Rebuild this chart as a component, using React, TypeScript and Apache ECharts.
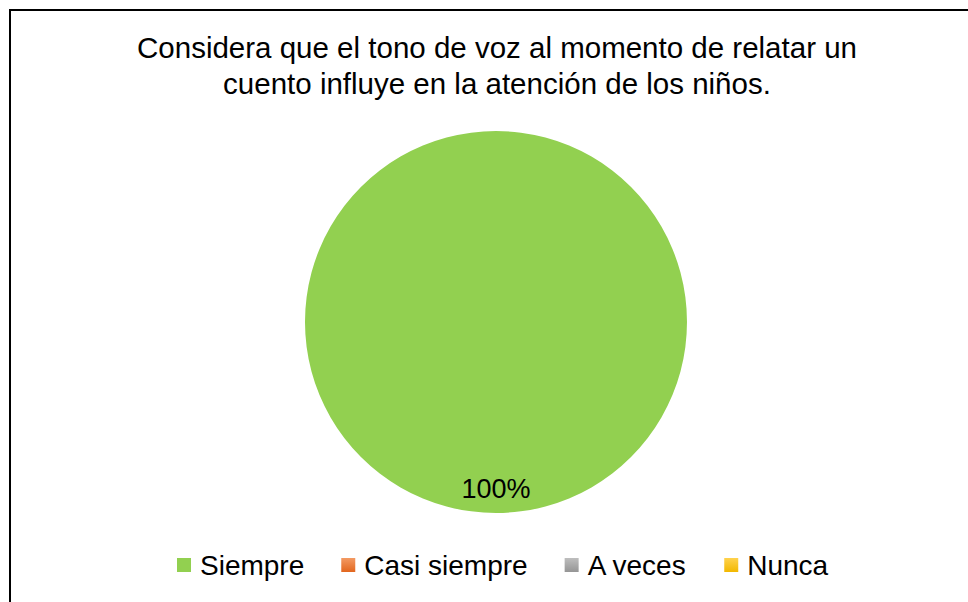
import React, { useEffect, useRef } from "react";
import * as echarts from "echarts";

const titleLines = [
  "Considera que el tono de voz al momento de relatar un",
  "cuento influye en la atención de los niños.",
];
const categories = ["Siempre", "Casi siempre", "A veces", "Nunca"];
const values = [100, 0, 0, 0];
const colorTops = ["#92D050", "#F39A63", "#BEBEBE", "#FFD24D"];
const colorBottoms = ["#92D050", "#E2661E", "#959595", "#F2B800"];

export default function App() {
  const ref = useRef<HTMLDivElement>(null);
  useEffect(() => {
    document.body.style.margin = "0";
    const chart = echarts.init(ref.current!, null, { renderer: "svg" });
    const font = "'Liberation Sans', Arial, sans-serif";
    const data = categories.map((name, i) => ({
      name,
      value: values[i],
      itemStyle: {
        color:
          colorTops[i] === colorBottoms[i]
            ? colorTops[i]
            : new echarts.graphic.LinearGradient(0, 0, 0, 1, [
                { offset: 0, color: colorTops[i] },
                { offset: 1, color: colorBottoms[i] },
              ]),
      },
      label: { show: values[i] > 0 },
    }));
    chart.setOption({
      animation: false,
      backgroundColor: "#ffffff",
      title: {
        text: titleLines.join("\n"),
        left: 492,
        top: 24,
        textAlign: "center",
        textStyle: {
          fontFamily: font,
          fontSize: 29.5,
          fontWeight: "normal",
          color: "#000000",
          lineHeight: 36,
        },
      },
      legend: {
        data: categories,
        left: 172,
        top: 546,
        icon: "rect",
        itemWidth: 14,
        itemHeight: 14,
        itemGap: 37,
        textStyle: {
          fontFamily: font,
          fontSize: 28,
          lineHeight: 28,
          color: "#000000",
          padding: [0, 0, 0, 4],
        },
      },
      graphic: [
        {
          type: "rect",
          shape: { x: 10, y: 10, width: 1000, height: 1000 },
          style: { fill: "none", stroke: "#000000", lineWidth: 2 },
          silent: true,
        },
      ],
      series: [
        {
          type: "pie",
          center: [496, 322],
          radius: 191,
          startAngle: 90,
          clockwise: true,
          stillShowZeroSum: true,
          itemStyle: { borderWidth: 0 },
          label: {
            show: true,
            position: "inside",
            formatter: "{d}%",
            fontFamily: font,
            fontSize: 27,
            color: "#000000",
            offset: [0, 68],
          },
          labelLine: { show: false },
          emphasis: { disabled: true },
          data,
        },
      ],
    });
    return () => chart.dispose();
  }, []);
  return (
    <div
      ref={ref}
      style={{ position: "absolute", left: 0, top: 0, width: 968, height: 602 }}
    />
  );
}
